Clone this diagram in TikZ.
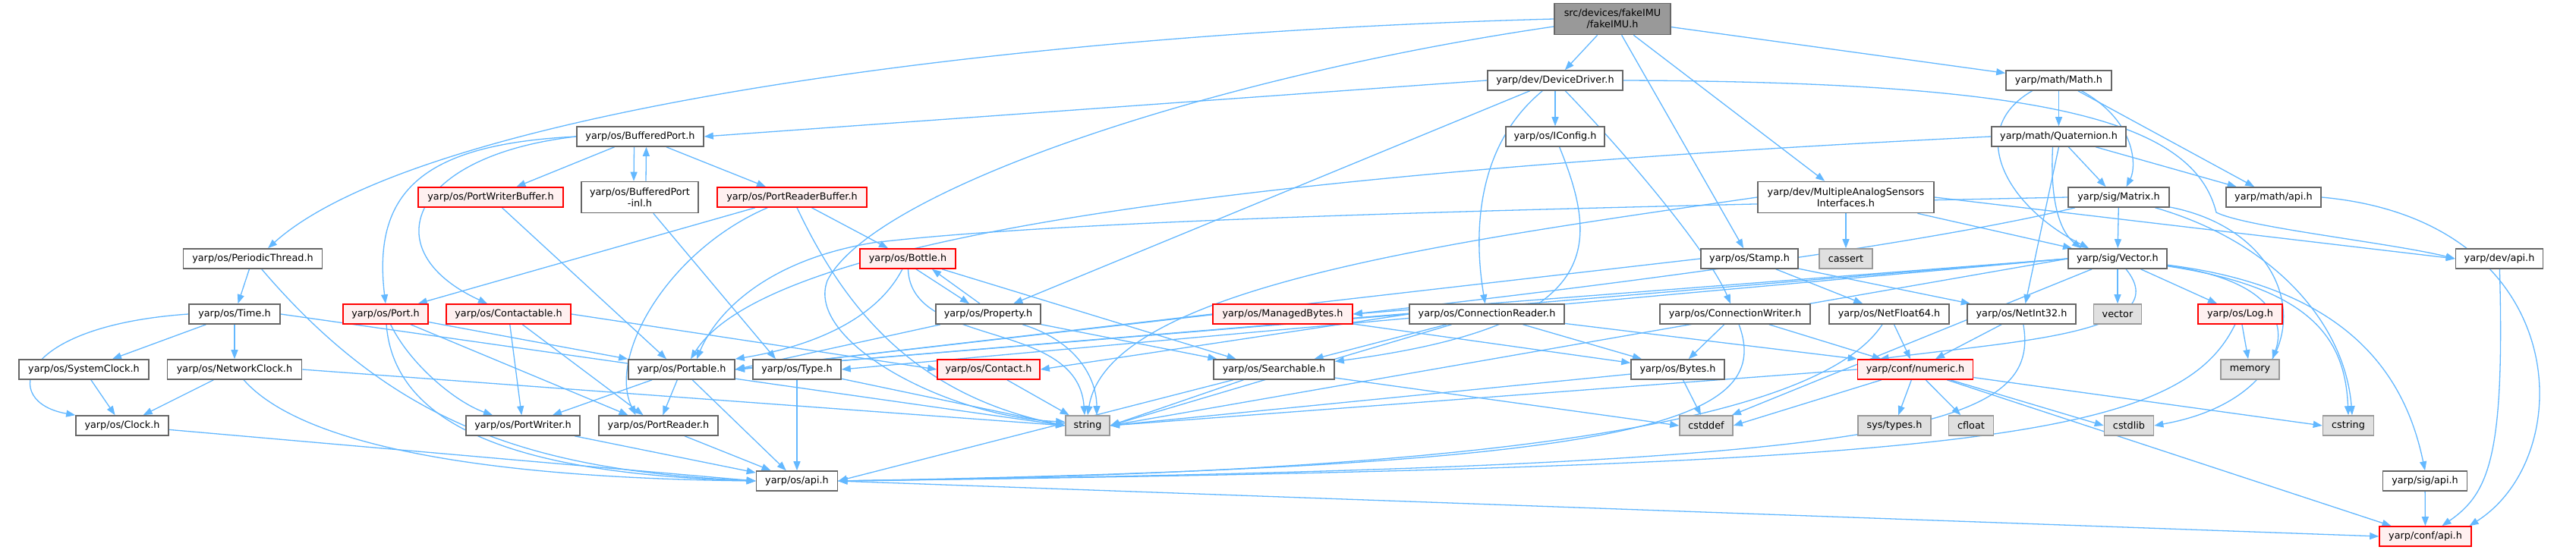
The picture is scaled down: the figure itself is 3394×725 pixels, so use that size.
\documentclass[tikz,border=0pt]{standalone}
\usepackage{fontspec}
\setmainfont{DejaVu Sans}
\usetikzlibrary{arrows.meta,backgrounds}
\definecolor{edgec}{HTML}{63B8FF}
\definecolor{nborder}{HTML}{666666}
\definecolor{rfill}{HTML}{FFF0F0}
\definecolor{gfill}{HTML}{E0E0E0}
\definecolor{gborder}{HTML}{999999}
\definecolor{rootfill}{HTML}{999999}
\begin{document}
\begin{tikzpicture}[x=1pt,y=-1pt,
  nd/.style={draw=nborder, fill=white, line width=1.6pt, minimum height=26pt, inner sep=0pt, font=\fontsize{12.8}{14.8}\selectfont, align=center},
  rn/.style={nd, draw=red, fill=rfill},
  gn/.style={nd, draw=gborder, fill=gfill},
  rootn/.style={nd, fill=rootfill},
  two/.style={minimum height=41pt},
  ed/.style={draw=edgec, line width=1.3pt, -{Triangle[length=12pt,width=9pt]}},
]
\useasboundingbox (0,0) rectangle (3394,725);
% nodes
\node[rootn,two,minimum width=153pt] (root) at (2124.5,25) {src/devices/fakeIMU\\/fakeIMU.h};
\node[nd,minimum width=178pt] (dd) at (2049,106) {yarp/dev/DeviceDriver.h};
\node[nd,minimum width=139pt] (math) at (2712.5,106) {yarp/math/Math.h};
\node[nd,minimum width=167pt] (bp) at (843.5,180) {yarp/os/BufferedPort.h};
\node[nd,minimum width=130pt] (icfg) at (2049,180) {yarp/os/IConfig.h};
\node[nd,minimum width=177pt] (quat) at (2712.5,180) {yarp/math/Quaternion.h};
\node[rn,minimum width=191pt] (pwb) at (646.5,260) {yarp/os/PortWriterBuffer.h};
\node[nd,two,minimum width=154pt] (bpi) at (843,260) {yarp/os/BufferedPort\\-inl.h};
\node[rn,minimum width=197pt] (prb) at (1043.5,260) {yarp/os/PortReaderBuffer.h};
\node[nd,two,minimum width=232pt] (mas) at (2432,260) {yarp/dev/MultipleAnalogSensors\\Interfaces.h};
\node[nd,minimum width=133pt] (mat) at (2791.5,260) {yarp/sig/Matrix.h};
\node[nd,minimum width=125pt] (mapi) at (2995.5,260) {yarp/math/api.h};
\node[nd,minimum width=183pt] (pth) at (333,341) {yarp/os/PeriodicThread.h};
\node[rn,minimum width=126pt] (bot) at (1196,341) {yarp/os/Bottle.h};
\node[nd,minimum width=128pt] (stamp) at (2305,341) {yarp/os/Stamp.h};
\node[gn,minimum width=70pt] (cassert) at (2432,341) {cassert};
\node[nd,minimum width=130pt] (vec) at (2790,341) {yarp/sig/Vector.h};
\node[nd,minimum width=115pt] (dapi) at (3293,341) {yarp/dev/api.h};
\node[nd,minimum width=120pt] (time) at (309,414) {yarp/os/Time.h};
\node[rn,minimum width=112pt] (port) at (508,414) {yarp/os/Port.h};
\node[rn,minimum width=164pt] (ctbl) at (670,414) {yarp/os/Contactable.h};
\node[nd,minimum width=138pt] (prop) at (1302,414) {yarp/os/Property.h};
\node[rn,minimum width=184pt] (mb) at (1690,414) {yarp/os/ManagedBytes.h};
\node[nd,minimum width=204pt] (cr) at (1959,414) {yarp/os/ConnectionReader.h};
\node[nd,minimum width=198pt] (cw) at (2286,414) {yarp/os/ConnectionWriter.h};
\node[nd,minimum width=158pt] (nf) at (2489,414) {yarp/os/NetFloat64.h};
\node[nd,minimum width=143pt] (ni) at (2663.5,414) {yarp/os/NetInt32.h};
\node[gn,minimum width=63pt] (vector) at (2790,414) {vector};
\node[rn,minimum width=111pt] (log) at (2951.5,414) {yarp/os/Log.h};
\node[nd,minimum width=171pt] (sclk) at (110.5,487) {yarp/os/SystemClock.h};
\node[nd,minimum width=177pt] (nclk) at (309,487) {yarp/os/NetworkClock.h};
\node[nd,minimum width=140pt] (ptbl) at (898,487) {yarp/os/Portable.h};
\node[nd,minimum width=116pt] (type) at (1050,487) {yarp/os/Type.h};
\node[rn,minimum width=135pt] (contact) at (1302.5,487) {yarp/os/Contact.h};
\node[nd,minimum width=159pt] (srch) at (1678.5,487) {yarp/os/Searchable.h};
\node[nd,minimum width=123pt] (bytes) at (2210.5,487) {yarp/os/Bytes.h};
\node[rn,minimum width=152pt] (num) at (2523.5,487) {yarp/conf/numeric.h};
\node[gn,minimum width=77pt] (memory) at (2964.5,487) {memory};
\node[nd,minimum width=122pt] (clock) at (161,561) {yarp/os/Clock.h};
\node[nd,minimum width=150pt] (pw) at (689,561) {yarp/os/PortWriter.h};
\node[nd,minimum width=157pt] (pr) at (867.5,561) {yarp/os/PortReader.h};
\node[gn,minimum width=58pt] (string) at (1433,561) {string};
\node[gn,minimum width=70pt] (cstddef) at (2248,561) {cstddef};
\node[gn,minimum width=96pt] (systypes) at (2496,561) {sys/types.h};
\node[gn,minimum width=59pt] (cfloat) at (2597,561) {cfloat};
\node[gn,minimum width=65pt] (cstdlib) at (2805,561) {cstdlib};
\node[gn,minimum width=67pt] (cstring) at (3094,561) {cstring};
\node[nd,minimum width=107pt] (osapi) at (1050,634) {yarp/os/api.h};
\node[nd,minimum width=111pt] (sapi) at (3195,634) {yarp/sig/api.h};
\node[rn,minimum width=121pt] (capi) at (3195.5,707) {yarp/conf/api.h};
\begin{scope}[on background layer]
\fill[white] (0,0) rectangle (3394,725);
% root
\draw[ed] (root) -- (dd);
\draw[ed] (root) -- (math);
\draw[ed] (root.west) .. controls (1300,45) and (550,150) .. ([xshift=20pt]pth.north);
\draw[ed] ([yshift=-10pt]root.west) .. controls (1600,100) and (1150,250) .. (1090,370) .. controls (1060,450) and (1250,550) .. ([yshift=5pt]string.west);
\draw[ed] (root) -- (stamp);
\draw[ed] (root) -- (mas);
% dd
\draw[ed] (dd.west) -- (bp.east);
\draw[ed] (dd) -- (icfg);
\draw[ed] (dd) -- (prop);
\draw[ed] (dd) .. controls (1935,200) and (1945,330) .. (cr);
\draw[ed] (dd) .. controls (2140,200) and (2250,330) .. (cw);
\draw[ed] (dd.east) .. controls (2700,108) and (2890,160) .. (2920,280) .. controls (2960,300) and (3150,320) .. (dapi.west);
% math
\draw[ed] (math) -- (quat);
\draw[ed] ([xshift=30pt]math.south) .. controls (2815,160) and (2815,220) .. ([xshift=10pt]mat.north);
\draw[ed] (math) -- (mapi);
\draw[ed] ([xshift=-35pt]math.south) .. controls (2590,170) and (2640,270) .. ([xshift=-38pt]vec.north);
% quat
\draw[ed] (quat.west) .. controls (1500,235) and (1000,330) .. ([xshift=12pt]ptbl.north);
\draw[ed] (quat) -- ([xshift=-17pt]mat.north);
\draw[ed] (quat) -- (mapi);
\draw[ed] (quat.south) -- ([xshift=5pt]ni.north);
\draw[ed] ([xshift=-8pt]quat.south) .. controls (2700,280) and (2720,310) .. ([xshift=-48pt]vec.north);
% bp
\draw[ed] (bp.west) .. controls (560,190) and (490,250) .. (port.north);
\draw[ed] (bp.west) .. controls (540,205) and (490,330) .. ([xshift=-28pt]ctbl.north);
\draw[ed] (bp) -- (pwb);
\draw[ed] ([xshift=-8pt]bp.south) -- ([xshift=-8pt]bpi.north);
\draw[ed] ([xshift=8pt]bpi.north) -- ([xshift=8pt]bp.south);
\draw[ed] (bp) -- (prb);
% icfg
\draw[ed] (icfg) .. controls (2110,330) and (2110,430) .. (srch);
% pwb, bpi, prb
\draw[ed] (pwb) -- ([xshift=-20pt]ptbl.north);
\draw[ed] (bpi) -- ([xshift=-28pt]type.north);
\draw[ed] (prb) -- ([xshift=-14pt]port.north east);
\draw[ed] (prb) .. controls (880,330) and (800,470) .. ([xshift=-30pt]pr.north);
\draw[ed] (prb) .. controls (1110,400) and (1200,520) .. (string.west);
\draw[ed] (prb) -- (bot);
% mas
\draw[ed] (mas) -- (cassert);
\draw[ed] (mas) -- ([xshift=-60pt]vec.north);
\draw[ed] (mas.east) -- (dapi.west);
\draw[ed] (mas.west) .. controls (1900,320) and (1460,380) .. (string.north);
% mat
\draw[ed] (mat) -- (vec);
\draw[ed] (mat.west) .. controls (2000,275) and (1400,290) .. (1150,320) .. controls (1000,345) and (940,420) .. ([xshift=20pt]ptbl.north);
\draw[ed] (mat) .. controls (2500,330) and (2000,390) .. (mb.east);
\draw[ed] (mat) .. controls (3050,310) and (3070,520) .. (cstdlib.east);
\draw[ed] (mat) .. controls (3000,320) and (3090,430) .. ([xshift=5pt]cstring.north);
% mapi
\draw[ed] (mapi.east) .. controls (3390,290) and (3400,600) .. ([xshift=58pt]capi.north);
% pth
\draw[ed] (pth) -- (time);
\draw[ed] (pth) .. controls (520,560) and (700,620) .. (osapi.west);
% bot
\draw[ed] (bot) .. controls (1150,430) and (1050,460) .. (ptbl.north east);
\draw[ed] (bot) .. controls (1200,460) and (1420,420) .. ([xshift=-4pt]string.north);
\draw[ed] ([xshift=11pt]bot.south) -- ([xshift=-25pt]prop.north);
\draw[ed] ([xshift=-11pt]prop.north) -- ([xshift=32pt]bot.south);
\draw[ed] (bot) -- ([xshift=-50pt]srch.north);
% stamp
\draw[ed] (stamp.west) -- (ptbl.east);
\draw[ed] (stamp) -- (nf);
\draw[ed] (stamp) -- (ni);
% vec
\draw[ed] (vec.west) -- (mb.east);
\draw[ed] (vec.west) -- (ptbl.east);
\draw[ed] (vec.west) -- (type.east);
\draw[ed] (vec.west) -- (string.east);
\draw[ed] (vec) -- (cstddef);
\draw[ed] (vec) -- (vector);
\draw[ed] (vec) -- (log);
\draw[ed] (vec) .. controls (3000,370) and (3010,430) .. ([xshift=-10pt]memory.north east);
\draw[ed] (vec) .. controls (3050,380) and (3090,450) .. (cstring.north);
\draw[ed] (vec) .. controls (3100,380) and (3170,500) .. (sapi.north);
\draw[ed] (vec) .. controls (2870,440) and (2650,450) .. ([xshift=-47pt]num.north);
% dapi, sapi
\draw[ed] (dapi) .. controls (3300,600) and (3280,650) .. ([xshift=22pt]capi.north);
\draw[ed] (sapi) -- (capi);
% time
\draw[ed] (time.west) .. controls (20,430) and (0,530) .. (clock.north west);
\draw[ed] (time) -- (sclk);
\draw[ed] (time) -- (nclk);
\draw[ed] (time.east) -- (string.west);
% port
\draw[ed] (port) -- (ptbl.north west);
\draw[ed] (port) -- ([xshift=-40pt]pr.north);
\draw[ed] (port) .. controls (540,480) and (600,530) .. ([xshift=-40pt]pw.north);
\draw[ed] (port) .. controls (520,570) and (700,625) .. (osapi.west);
% ctbl
\draw[ed] (ctbl) -- (pw);
\draw[ed] (ctbl) -- ([xshift=-20pt]pr.north);
\draw[ed] (ctbl.east) -- (contact.west);
% prop
\draw[ed] (prop) -- (ptbl.east);
\draw[ed] (prop) .. controls (1420,450) and (1445,500) .. ([xshift=12pt]string.north);
\draw[ed] (prop) -- ([xshift=-75pt]srch.north);
% mb
\draw[ed] (mb) -- (bytes);
\draw[ed] (mb.west) -- (ptbl.east);
% cr
\draw[ed] (cr) -- (srch);
\draw[ed] (cr) -- (bytes);
\draw[ed] (cr) -- (num.north west);
\draw[ed] (cr.west) -- (contact.east);
\draw[ed] (cr.west) -- (ptbl.east);
\draw[ed] (cr) -- (string.east);
% cw
\draw[ed] (cw) -- (bytes);
\draw[ed] (cw) .. controls (2340,560) and (2150,615) .. (osapi.east);
\draw[ed] (cw) -- (num);
% nf, ni, log
\draw[ed] (nf) -- (num);
\draw[ed] (nf) .. controls (2380,580) and (1800,625) .. (osapi.east);
\draw[ed] (ni) -- (num);
\draw[ed] (ni) .. controls (2690,570) and (2500,615) .. (osapi.east);
\draw[ed] (log) -- (memory);
\draw[ed] (log) .. controls (2870,580) and (2600,615) .. (osapi.east);
% clocks
\draw[ed] (sclk) -- (clock);
\draw[ed] (nclk) -- (clock);
\draw[ed] (nclk.east) -- (string.west);
\draw[ed] (nclk) .. controls (400,590) and (650,630) .. (osapi.west);
% row G
\draw[ed] (ptbl) -- (pw);
\draw[ed] (ptbl) -- (pr);
\draw[ed] (ptbl) -- (osapi);
\draw[ed] (type) -- (osapi);
\draw[ed] (type) -- (string.west);
\draw[ed] (contact) -- (string);
\draw[ed] (srch) -- (string.east);
\draw[ed] (srch) -- (osapi.east);
\draw[ed] (srch) -- (cstddef.west);
\draw[ed] (bytes) -- (cstddef);
\draw[ed] (bytes) -- (string.east);
\draw[ed] (num) -- (cstddef.east);
\draw[ed] (num) -- (systypes);
\draw[ed] (num) -- (cfloat);
\draw[ed] (num) -- (cstdlib.west);
\draw[ed] (num) -- (cstring.west);
\draw[ed] (num) -- ([xshift=-45pt]capi.north);
\draw[ed] (num.west) -- (string.east);
% bottom
\draw[ed] (clock) -- (osapi.west);
\draw[ed] (pw) -- (osapi);
\draw[ed] (pr) -- (osapi);
\draw[ed] (osapi.east) -- (capi.west);
\end{scope}
\end{tikzpicture}
\end{document}
